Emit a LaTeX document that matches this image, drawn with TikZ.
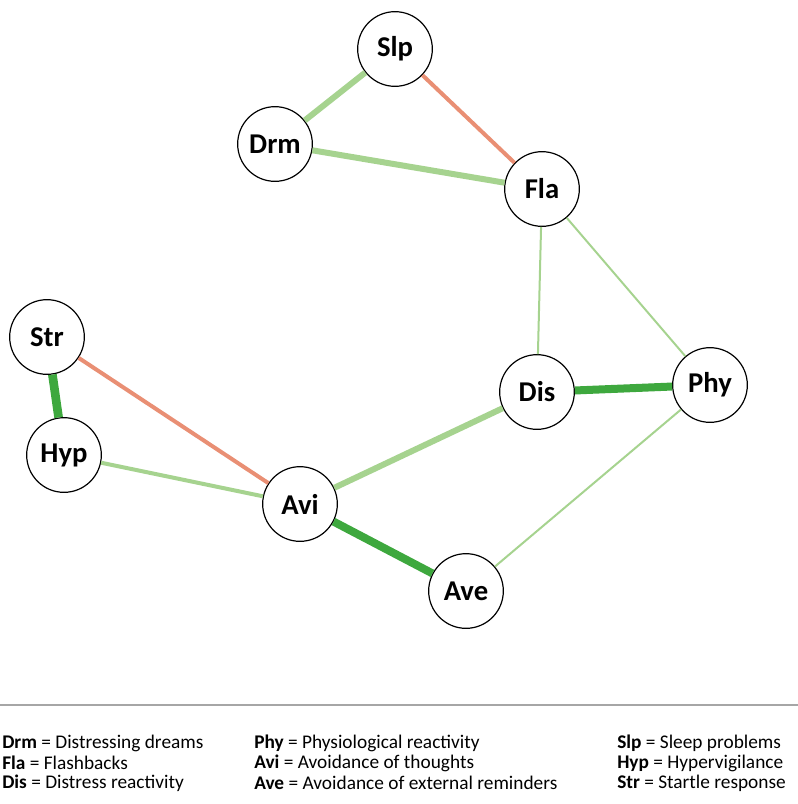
\documentclass[tikz,border=0pt]{standalone}
\usepackage{fontspec}
\setmainfont{Carlito}
\definecolor{posweak}{RGB}{166,211,143}
\definecolor{posstrong}{RGB}{62,168,62}
\definecolor{negedge}{RGB}{233,143,116}
\begin{document}
\begin{tikzpicture}[x=0.75pt,y=-0.75pt,
		symptom/.style={circle, draw, line width=0.9pt, fill=white, minimum size=56pt, inner sep=0pt, font=\fontsize{21.5}{23}\selectfont\bfseries},
		legend/.style={anchor=west, inner sep=0pt, font=\fontsize{14.5}{16}\selectfont}]
				\useasboundingbox (0,0) rectangle (798,804);
			
				\node [symptom] (Slp) at (395, 49) {Slp};
				\node [symptom] (Drm) at (275, 144) {Drm};
				\node [symptom] (Fla) at (542, 189) {Fla};
				\node [symptom] (Str) at (47, 337) {Str};
				\node [symptom] (Hyp) at (64, 455) {Hyp};
				\node [symptom] (Avi) at (300, 504) {Avi};
				\node [symptom] (Dis) at (537, 392) {Dis};
				\node [symptom] (Phy) at (710, 385) {Phy};
				\node [symptom] (Ave) at (466, 591) {Ave};
				
				\draw [posweak, line width=4.5pt] (Slp) -- (Drm);
				\draw [negedge, line width=3pt] (Slp) -- (Fla);
				\draw [posweak, line width=4.5pt] (Drm) -- (Fla);
				\draw [posweak, line width=1.5pt] (Fla) -- (Dis);
				\draw [posweak, line width=1.5pt] (Fla) -- (Phy);
				\draw [posstrong, line width=6.5pt] (Str) -- (Hyp);
				\draw [negedge, line width=3pt] (Str) -- (Avi);
				\draw [posweak, line width=3pt] (Hyp) -- (Avi);
				\draw [posweak, line width=4.5pt] (Avi) -- (Dis);
				\draw [posstrong, line width=6pt] (Avi) -- (Ave);
				\draw [posstrong, line width=6pt] (Dis) -- (Phy);
				\draw [posweak, line width=1.5pt] (Phy) -- (Ave);
				
				\draw [gray!70, line width=1.5pt] (0, 705) -- (798, 705);
				
				\node [legend] (lDrm) at (2, 743) {\textbf{Drm} = Distressing dreams};
				\node [legend] (lFla) at (2, 763) {\textbf{Fla} = Flashbacks};
				\node [legend] (lDis) at (2, 783) {\textbf{Dis} = Distress reactivity};
				\node [legend] (lPhy) at (254, 743) {\textbf{Phy} = Physiological reactivity};
				\node [legend] (lAvi) at (254, 763) {\textbf{Avi} = Avoidance of thoughts};
				\node [legend] (lAve) at (254, 783) {\textbf{Ave} = Avoidance of external reminders};
				\node [legend] (lSlp) at (617, 743) {\textbf{Slp} = Sleep problems};
				\node [legend] (lHyp) at (617, 763) {\textbf{Hyp} = Hypervigilance};
				\node [legend] (lStr) at (617, 783) {\textbf{Str} = Startle response};
			\end{tikzpicture}
\end{document}
